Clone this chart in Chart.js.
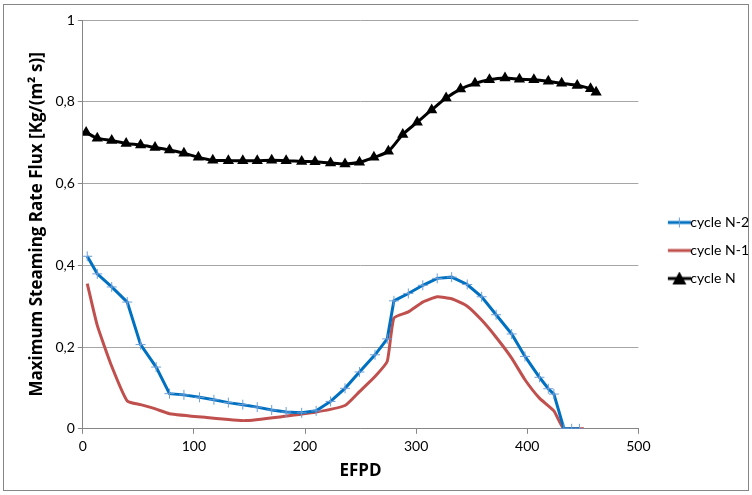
<!DOCTYPE html>
<html>
<head>
<meta charset="utf-8">
<script src="https://cdn.jsdelivr.net/npm/chart.js@4/dist/chart.umd.min.js"></script>
<style>
  html, body { margin: 0; padding: 0; background: #fff; overflow: hidden; }
  #frame { position: absolute; left: 3px; top: 4px; width: 746px; height: 487px; border: 1px solid #868686; box-sizing: border-box; }
  #wrap { position: absolute; left: 0; top: 0; width: 752px; height: 495px; }
</style>
</head>
<body>
<div id="frame"></div>
<div id="wrap"><canvas id="myChart" width="752" height="495"></canvas></div>
<script>
// cycle N-2
var efpdN2 = [4, 13, 26, 40, 52, 66, 78, 91, 105, 118, 131, 144, 157, 170, 183, 197, 210, 223, 236, 249, 263, 274, 280, 293, 306, 319, 332, 346, 359, 372, 386, 398, 411, 419, 424, 433, 440, 447];
var fluxN2 = [0.422, 0.379, 0.347, 0.310, 0.206, 0.151, 0.086, 0.083, 0.077, 0.071, 0.064, 0.059, 0.053, 0.046, 0.041, 0.039, 0.044, 0.067, 0.099, 0.139, 0.181, 0.220, 0.313, 0.331, 0.351, 0.368, 0.371, 0.353, 0.323, 0.279, 0.232, 0.177, 0.126, 0.098, 0.085, 0.001, 0, 0];

// cycle N-1
var efpdN1 = [4, 13, 26, 40, 52, 66, 78, 110, 146, 180, 210, 236, 249, 263, 274, 280, 293, 306, 319, 332, 346, 359, 372, 386, 398, 411, 424, 433, 451];
var fluxN1 = [0.355, 0.253, 0.153, 0.068, 0.059, 0.048, 0.037, 0.028, 0.020, 0.030, 0.041, 0.057, 0.091, 0.128, 0.165, 0.271, 0.286, 0.310, 0.323, 0.318, 0.300, 0.266, 0.224, 0.173, 0.120, 0.075, 0.044, 0, 0];

// cycle N
var efpdN = [3, 13, 26, 39, 52, 65, 78, 91, 104, 117, 131, 144, 157, 170, 183, 197, 209, 223, 236, 249, 262, 275, 288, 301, 314, 327, 340, 353, 366, 380, 393, 406, 419, 431, 445, 457, 462];
var fluxN = [0.725, 0.711, 0.705, 0.698, 0.694, 0.688, 0.682, 0.674, 0.664, 0.657, 0.656, 0.656, 0.656, 0.657, 0.656, 0.654, 0.653, 0.650, 0.648, 0.652, 0.664, 0.679, 0.720, 0.750, 0.780, 0.809, 0.831, 0.845, 0.854, 0.858, 0.855, 0.854, 0.850, 0.845, 0.840, 0.832, 0.823];

var seriesNames = ["cycle N-2", "cycle N-1", "cycle N"];
var xTicks = [0, 100, 200, 300, 400, 500];
var yTicks = [0, 0.2, 0.4, 0.6, 0.8, 1];

var FONT = "Lato, 'Open Sans', sans-serif";
var TITLE_FONT = "'Open Sans', Lato, sans-serif";

function toPoints(xs, ys) {
    return xs.map(function (x, i) { return { x: x, y: ys[i] }; });
}

// legend swatch: line with the series marker; left half is blank so the
// image can sit centred on the legend box and still end next to the text
function swatch(color, markerColor, style) {
    var c = document.createElement("canvas");
    c.width = 46; c.height = 14;
    var g = c.getContext("2d");
    g.strokeStyle = color;
    g.lineWidth = 3;
    g.beginPath(); g.moveTo(23, 7); g.lineTo(46, 7); g.stroke();
    g.fillStyle = markerColor; g.strokeStyle = markerColor;
    if (style === "triangle") {
        g.beginPath(); g.moveTo(34.5, 0); g.lineTo(41.5, 13); g.lineTo(27.5, 13); g.closePath(); g.fill();
    } else if (style === "cross") {
        g.lineWidth = 1;
        g.beginPath(); g.moveTo(34.5, 2); g.lineTo(34.5, 12); g.stroke();
    }
    return c;
}

var ctx = document.getElementById("myChart").getContext("2d");
var swatches = [
    swatch("#0070c0", "#6c9fd8", "cross"),
    swatch("#c0504d", null, null),
    swatch("#000000", "#000000", "triangle")
];

var myChart = new Chart(ctx, {
    type: "line",
    data: {
        datasets: [{
            label: seriesNames[0],
            data: toPoints(efpdN2, fluxN2),
            borderColor: "#0070c0",
            borderWidth: 3,
            pointStyle: "cross",
            pointRadius: 5,
            pointBorderWidth: 1,
            pointBorderColor: "#6c9fd8",
            pointBackgroundColor: "#6c9fd8",
            tension: 0
        }, {
            label: seriesNames[1],
            data: toPoints(efpdN1, fluxN1),
            borderColor: "#c0504d",
            borderWidth: 3,
            pointRadius: 0,
            tension: 0.15
        }, {
            label: seriesNames[2],
            data: toPoints(efpdN, fluxN),
            borderColor: "#000000",
            borderWidth: 3,
            pointStyle: "triangle",
            pointRadius: 6.5,
            pointBorderWidth: 0,
            pointBackgroundColor: "#000000",
            tension: 0.3
        }]
    },
    options: {
        responsive: false,
        animation: false,
        layout: { padding: { left: 23, right: -7, top: 20, bottom: 14 } },
        plugins: {
            tooltip: { enabled: false },
            legend: {
                position: "right",
                align: "center",
                labels: {
                    usePointStyle: true,
                    pointStyleWidth: 31,
                    color: "#000",
                    padding: 14,
                    font: { family: FONT, size: 14 },
                    generateLabels: function (chart) {
                        return seriesNames.map(function (name, i) {
                            return {
                                text: name,
                                pointStyle: swatches[i],
                                datasetIndex: i,
                                fontColor: "#000",
                                lineWidth: 0
                            };
                        });
                    }
                }
            }
        },
        scales: {
            x: {
                type: "linear",
                min: 0,
                max: 500,
                afterBuildTicks: function (axis) { axis.ticks = xTicks.map(function (v) { return { value: v }; }); },
                grid: { drawOnChartArea: false, drawTicks: true, tickLength: 5, color: "#868686" },
                border: { color: "#868686", width: 1 },
                ticks: { color: "#000", padding: 4, font: { family: FONT, size: 14 } },
                title: { display: true, text: "EFPD", color: "#000", font: { family: TITLE_FONT, size: 17, weight: "bold" }, padding: { top: 2, bottom: 0 } }
            },
            y: {
                min: 0,
                max: 1,
                afterBuildTicks: function (axis) { axis.ticks = yTicks.map(function (v) { return { value: v }; }); },
                grid: { color: "#a6a6a6", lineWidth: 1, drawTicks: true, tickLength: 5, tickColor: "#868686" },
                border: { color: "#868686", width: 1 },
                ticks: {
                    color: "#000",
                    padding: 3,
                    font: { family: FONT, size: 14 },
                    callback: function (v) { return String(v).replace(".", ","); }
                },
                title: { display: true, text: "Maximum Steaming Rate Flux [Kg/(m\u00b2 s)]", color: "#000", font: { family: TITLE_FONT, size: 17, weight: "bold" }, padding: { top: 4, bottom: 5 } }
            }
        }
    }
});
</script>
</body>
</html>
